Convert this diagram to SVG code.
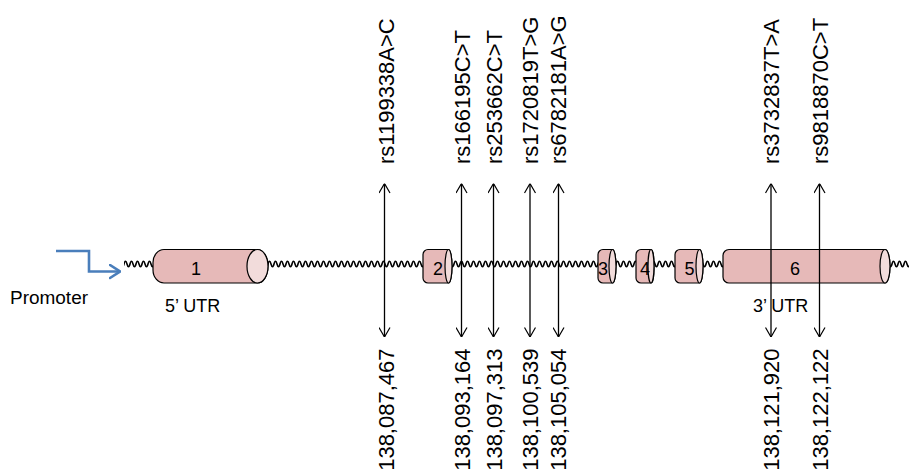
<svg xmlns="http://www.w3.org/2000/svg" width="909" height="469" viewBox="0 0 909 469">
<style>
text{font-family:"Liberation Sans",Arial,Helvetica,sans-serif;fill:#000}
.lbl{font-size:22px}
.num{font-size:18px;text-anchor:middle}
.body{fill:#E6B9B8;stroke:#000;stroke-width:1.2}
.cap{fill:#F2DCDB;stroke:#000;stroke-width:1.2}
.snp{stroke:#000;stroke-width:1.3;fill:none;marker-start:url(#ah);marker-end:url(#ah)}
</style>
<defs>
<marker id="ah" viewBox="0 0 10 12" refX="10" refY="6" markerWidth="10" markerHeight="12" markerUnits="userSpaceOnUse" orient="auto-start-reverse">
<path d="M0.5,0.5 L10,6 L0.5,11.5" fill="none" stroke="#000" stroke-width="1.2"/>
</marker>
<marker id="bh" viewBox="0 0 12 16" refX="11" refY="8" markerWidth="12" markerHeight="16" markerUnits="userSpaceOnUse" orient="auto">
<path d="M1,1.5 L11,8 L1,14.5" fill="none" stroke="#4A7EBB" stroke-width="2.6" stroke-linecap="round"/>
</marker>
<pattern id="wave" patternUnits="userSpaceOnUse" x="124" y="258" width="6" height="12">
<path d="M-3,6 Q-1.5,11.5 0,6 Q1.5,0.5 3,6 Q4.5,11.5 6,6 Q7.5,0.5 9,6" fill="none" stroke="#000" stroke-width="1.6"/>
</pattern>
</defs>

<g id="backbone">
<rect x="124" y="258" width="785" height="12" fill="url(#wave)"/>
</g>

<g id="promoter">
<path d="M56,251 L89,251 L89,271.5 L120,271.5" fill="none" stroke="#4A7EBB" stroke-width="2.6" marker-end="url(#bh)"/>
<text x="10" y="304" font-size="18" textLength="78" lengthAdjust="spacingAndGlyphs">Promoter</text>
</g>

<g id="exon1">
<path class="body" d="M164,249.5 L257.5,249.5 A10.5,16.75 0 0 1 257.5,283 L164,283 A11,13 0 0 1 153,270 L153,262.5 A11,13 0 0 1 164,249.5 Z"/>
<ellipse class="cap" cx="257.5" cy="266.25" rx="10.5" ry="16.75"/>
<text class="num" x="196" y="275">1</text>
<text x="165" y="312" font-size="18">5’ UTR</text>
</g>

<g id="exon2">
<path class="body" d="M428,249.5 L448.5,249.5 A3.5,16.75 0 0 1 448.5,283 L428,283 A5,5 0 0 1 423,278 L423,254.5 A5,5 0 0 1 428,249.5 Z"/>
<ellipse class="cap" cx="448.5" cy="266.25" rx="3.5" ry="16.75"/>
<text class="num" x="438" y="275">2</text>
</g>

<g id="exon3">
<path class="body" d="M603,249.5 L612.5,249.5 A3.5,16.75 0 0 1 612.5,283 L603,283 A5,5 0 0 1 598,278 L598,254.5 A5,5 0 0 1 603,249.5 Z"/>
<ellipse class="cap" cx="612.5" cy="266.25" rx="3.5" ry="16.75"/>
<text class="num" x="603" y="275">3</text>
</g>

<g id="exon4">
<path class="body" d="M641,249.5 L651,249.5 A3,16.75 0 0 1 651,283 L641,283 A5,5 0 0 1 636,278 L636,254.5 A5,5 0 0 1 641,249.5 Z"/>
<ellipse class="cap" cx="651" cy="266.25" rx="3" ry="16.75"/>
<text class="num" x="645" y="275">4</text>
</g>

<g id="exon5">
<path class="body" d="M680,249.5 L699.5,249.5 A3.5,16.75 0 0 1 699.5,283 L680,283 A5,5 0 0 1 675,278 L675,254.5 A5,5 0 0 1 680,249.5 Z"/>
<ellipse class="cap" cx="699.5" cy="266.25" rx="3.5" ry="16.75"/>
<text class="num" x="689.5" y="275">5</text>
</g>

<g id="exon6">
<path class="body" d="M729,249.5 L885,249.5 A5,16.75 0 0 1 885,283 L729,283 A6,6 0 0 1 723,277 L723,255.5 A6,6 0 0 1 729,249.5 Z"/>
<ellipse class="cap" cx="885" cy="266.25" rx="5" ry="16.75"/>
<text class="num" x="795" y="275">6</text>
<text x="753" y="312" font-size="18">3’ UTR</text>
</g>

<g id="connectors">
<line class="snp" x1="384.5" y1="183.5" x2="384.5" y2="337"/>
<line class="snp" x1="461.5" y1="183.5" x2="461.5" y2="337"/>
<line class="snp" x1="493.5" y1="183.5" x2="493.5" y2="337"/>
<line class="snp" x1="530" y1="183.5" x2="530" y2="337"/>
<line class="snp" x1="558.5" y1="183.5" x2="558.5" y2="337"/>
<line class="snp" x1="771" y1="183.5" x2="771" y2="337"/>
<line class="snp" x1="819.5" y1="183.5" x2="819.5" y2="337"/>
</g>

<g id="snp-labels">
<text class="lbl" transform="translate(393.5,164) rotate(-90)">rs1199338A&gt;C</text>
<text class="lbl" transform="translate(469.5,164) rotate(-90)">rs166195C&gt;T</text>
<text class="lbl" transform="translate(501.5,164) rotate(-90)">rs253662C&gt;T</text>
<text class="lbl" transform="translate(537.5,164) rotate(-90)">rs1720819T&gt;G</text>
<text class="lbl" transform="translate(566,164) rotate(-90)">rs6782181A&gt;G</text>
<text class="lbl" transform="translate(779,164) rotate(-90)">rs3732837T&gt;A</text>
<text class="lbl" transform="translate(827.5,164) rotate(-90)">rs9818870C&gt;T</text>
</g>

<g id="position-labels">
<text class="lbl" text-anchor="end" transform="translate(393.5,348.5) rotate(-90)">138,087,467</text>
<text class="lbl" text-anchor="end" transform="translate(469.5,348.5) rotate(-90)">138,093,164</text>
<text class="lbl" text-anchor="end" transform="translate(501.5,348.5) rotate(-90)">138,097,313</text>
<text class="lbl" text-anchor="end" transform="translate(537.5,348.5) rotate(-90)">138,100,539</text>
<text class="lbl" text-anchor="end" transform="translate(566,348.5) rotate(-90)">138,105,054</text>
<text class="lbl" text-anchor="end" transform="translate(779,348.5) rotate(-90)">138,121,920</text>
<text class="lbl" text-anchor="end" transform="translate(827.5,348.5) rotate(-90)">138,122,122</text>
</g>
</svg>
